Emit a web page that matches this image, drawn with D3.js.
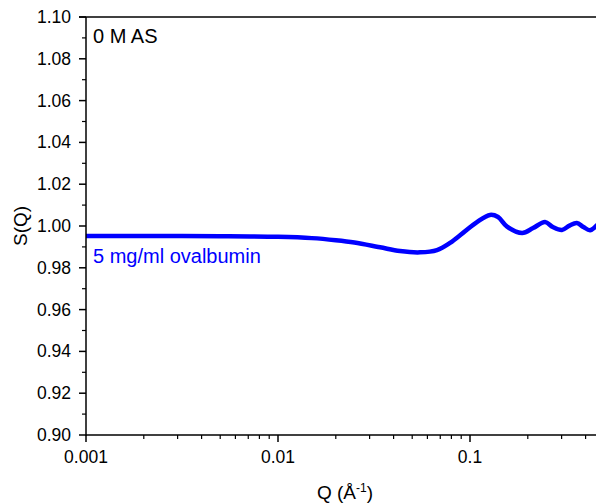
<!DOCTYPE html>
<html><head><meta charset="utf-8">
<script src="https://cdn.jsdelivr.net/npm/d3@7"></script>
<style>body{margin:0;background:#fff}svg{display:block}text{font-family:Arial,"Liberation Sans",sans-serif}</style>
</head><body>
<svg id="c" width="596" height="503"></svg>
<script>
const qValues = [0.001,0.002,0.005,0.01,0.015,0.02,0.025,0.034,0.0432,0.0549,0.0673,0.0787,0.092,0.1087,0.1271,0.14,0.156,0.187,0.213,0.246,0.270,0.301,0.33,0.36,0.39,0.422,0.46];
const sValues = [0.9952,0.9952,0.9951,0.9948,0.9942,0.9932,0.9921,0.9898,0.9880,0.9874,0.9885,0.9919,0.9967,1.0019,1.0053,1.0043,0.9997,0.9967,0.9990,1.0019,0.9995,0.9981,1.0002,1.0014,0.9995,0.9980,1.0006];
const yTicks = [0.90,0.92,0.94,0.96,0.98,1.00,1.02,1.04,1.06,1.08,1.10];
const xTicks = [0.001,0.01,0.1];
const seriesLabel = "5 mg/ml ovalbumin";
const panelLabel = "0 M AS";

const svg = d3.select("#c");
const L=86, T=17, B=435;
const x = d3.scaleLog().domain([0.001, Math.pow(10, -1 + (596-470)/192)]).range([86, 596]);
const y = d3.scaleLinear().domain([0.90,1.10]).range([B,T]);

const xMinor=[];
for (let e=-3;e<0;e++) for (let m=2;m<=9;m++){const v=m*Math.pow(10,e); if(v<=x.domain()[1]) xMinor.push(v);}
const yMinor=d3.range(0,10).map(i=>0.91+i*0.02);

const g=svg.append("g");
g.selectAll(".xm").data(xMinor).join("line").attr("x1",d=>x(d)).attr("x2",d=>x(d)).attr("y1",B).attr("y2",B+4).attr("stroke","#000").attr("stroke-width",1.2);
g.selectAll(".xM").data(xTicks).join("line").attr("x1",d=>x(d)).attr("x2",d=>x(d)).attr("y1",B).attr("y2",B+7).attr("stroke","#000").attr("stroke-width",1.5);
g.selectAll(".xl").data(xTicks).join("text").attr("x",d=>x(d)).attr("y",B+28).attr("text-anchor","middle").attr("font-size",17.5).text(d=>String(d));
g.selectAll(".ym").data(yMinor).join("line").attr("x1",L-4).attr("x2",L).attr("y1",d=>y(d)).attr("y2",d=>y(d)).attr("stroke","#000").attr("stroke-width",1.2);
g.selectAll(".yM").data(yTicks).join("line").attr("x1",L-7).attr("x2",L).attr("y1",d=>y(d)).attr("y2",d=>y(d)).attr("stroke","#000").attr("stroke-width",1.5);
g.selectAll(".yl").data(yTicks).join("text").attr("x",L-15).attr("y",d=>y(d)+6).attr("text-anchor","end").attr("font-size",17.5).text(d=>d.toFixed(2));

svg.append("defs").append("clipPath").attr("id","cp").append("rect").attr("x",L).attr("y",T).attr("width",596-L).attr("height",B-T);
const line=d3.line().x((d,i)=>x(qValues[i])).y(d=>y(d)).curve(d3.curveCatmullRom.alpha(0.5));
svg.append("path").attr("clip-path","url(#cp)").attr("d",line(sValues)).attr("fill","none").attr("stroke","#0000ff").attr("stroke-width",4.5);

svg.append("line").attr("x1",L).attr("x2",L).attr("y1",T).attr("y2",B+0.75).attr("stroke","#000").attr("stroke-width",1.5);
svg.append("line").attr("x1",L).attr("x2",596).attr("y1",B).attr("y2",B).attr("stroke","#000").attr("stroke-width",1.5);
svg.append("line").attr("x1",L-7).attr("x2",596).attr("y1",T).attr("y2",T).attr("stroke","#000").attr("stroke-width",1.5);

svg.append("text").attr("x",93).attr("y",43).attr("font-size",20).text(panelLabel);
svg.append("text").attr("x",93).attr("y",263).attr("font-size",20).attr("fill","#0000ff").text(seriesLabel);

const xt=svg.append("text").attr("x",345).attr("y",499).attr("text-anchor","middle").attr("font-size",19);
xt.append("tspan").text("Q (Å");
xt.append("tspan").attr("dy",-7).attr("font-size",12).text("-1");
xt.append("tspan").attr("dy",7).text(")");
svg.append("text").attr("transform","translate(27,226) rotate(-90)").attr("text-anchor","middle").attr("font-size",19).text("S(Q)");
</script>
</body></html>
